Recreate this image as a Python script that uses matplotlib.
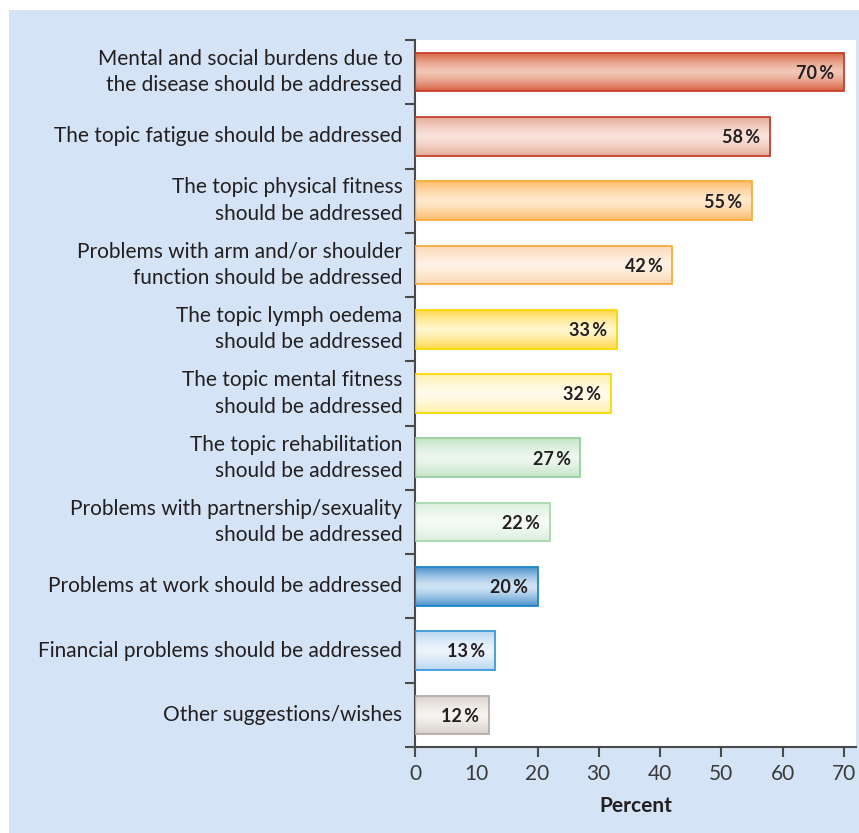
import numpy as np
import matplotlib
matplotlib.use('Agg')
import matplotlib.pyplot as plt
from matplotlib.patches import Rectangle
from matplotlib.colors import to_rgb

# Datos
categories = [
    'Mental and social burdens due to\nthe disease should be addressed',
    'The topic fatigue should be addressed',
    'The topic physical fitness\nshould be addressed',
    'Problems with arm and/or shoulder\nfunction should be addressed',
    'The topic lymph oedema\nshould be addressed',
    'The topic mental fitness\nshould be addressed',
    'The topic rehabilitation\nshould be addressed',
    'Problems with partnership/sexuality\nshould be addressed',
    'Problems at work should be addressed',
    'Financial problems should be addressed',
    'Other suggestions/wishes',
]
values = [70, 58, 55, 42, 33, 32, 27, 22, 20, 13, 12]
x_ticks = [0, 10, 20, 30, 40, 50, 60, 70]

# colores: (borde, oscuro, claro)
bar_styles = [
    ('#c8402a', '#d6603f', '#f2c6b6'),
    ('#c8402a', '#e6ab9a', '#f9e2da'),
    ('#f8ad3a', '#fdbb6a', '#ffe8cc'),
    ('#f8ad3a', '#fcd6b2', '#fff2e4'),
    ('#fcd800', '#ffd84a', '#fff6cc'),
    ('#fcd800', '#fff0ae', '#fffbea'),
    ('#98cf9f', '#c4e4c7', '#edf7ee'),
    ('#a8d8ae', '#d9eeda', '#f5fbf5'),
    ('#1d86c8', '#4d93cc', '#cfe3f4'),
    ('#3a9ad9', '#b9d7f0', '#ecf4fc'),
    ('#b5aca4', '#d6d0ca', '#f6f3f0'),
]

plt.rcParams['font.family'] = ['Lato', 'DejaVu Sans']

fig = plt.figure(figsize=(8.59, 8.33), dpi=100)
fig.patch.set_facecolor('white')
# panel azul de fondo
panel = Rectangle((9 / 859, 0), 1, 1 - 10 / 833, transform=fig.transFigure,
                  facecolor='#d4e3f5', edgecolor='none', zorder=-10)
fig.add_artist(panel)

ax = fig.add_axes([415 / 859, 1 - 747 / 833, 441 / 859, 707 / 833])
ax.set_zorder(1)
ax.set_facecolor('white')

n = len(values)
pos = np.arange(n)
bars = ax.barh(pos, values, height=0.6, facecolor='none', linewidth=1.3, zorder=3)

# gradiente vertical dentro de cada barra
t = np.linspace(0, 1, 64)
w = np.abs(2 * t - 1) ** 1.4
for bar, (edge, dark, light) in zip(bars, bar_styles):
    bar.set_edgecolor(edge)
    d = np.array(to_rgb(dark))
    l = np.array(to_rgb(light))
    grad = l[None, :] + (d - l)[None, :] * w[:, None]
    grad = np.repeat(grad[:, None, :], 2, axis=1)
    x0, y0 = bar.get_x(), bar.get_y()
    im = ax.imshow(grad, extent=[x0, x0 + bar.get_width(), y0, y0 + bar.get_height()],
                   aspect='auto', zorder=2, interpolation='bilinear')
    im.set_clip_path(bar)

for p, v in zip(pos, values):
    ax.annotate(f'{v}\u2009%', xy=(v, p), xytext=(-7, -1), textcoords='offset points',
                ha='right', va='center', fontsize=13, fontweight='bold', color='#231f20', zorder=4)

ax.set_xlim(0, 72)
ax.set_ylim(n - 0.5, -0.5)
ax.set_aspect('auto')

ax.set_yticks(pos)
ax.set_yticklabels(categories, fontsize=15, color='#231f20', ha='right', va='center',
                   linespacing=1.4)
ax.set_yticks(np.arange(n + 1) - 0.5, minor=True)
ax.tick_params(axis='y', which='major', length=0, pad=9)
ax.tick_params(axis='y', which='minor', length=7, width=1.5, color='#4a4a4a')

ax.set_xticks(x_ticks)
ax.tick_params(axis='x', length=7, width=1.5, color='#4a4a4a', labelsize=15,
               labelcolor='#3a3a3a', pad=5)
ax.set_xlabel('Percent', fontsize=15, fontweight='bold', color='#231f20', labelpad=9)

for s in ['top', 'right']:
    ax.spines[s].set_visible(False)
for s in ['left', 'bottom']:
    ax.spines[s].set_color('#4a4a4a')
    ax.spines[s].set_linewidth(1.5)

plt.savefig('out.png', dpi=100, facecolor=fig.get_facecolor())
